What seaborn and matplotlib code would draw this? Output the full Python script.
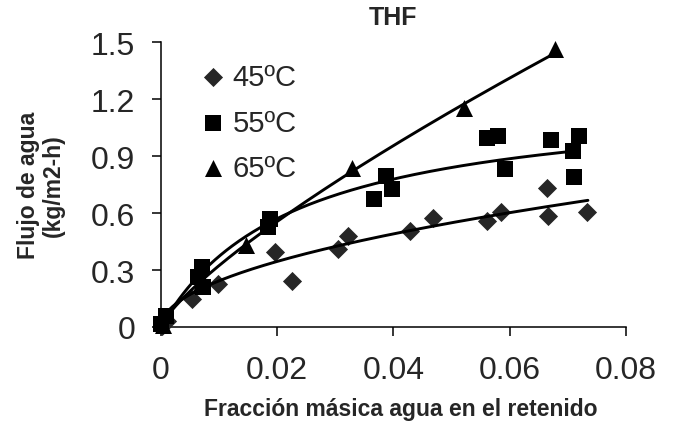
import numpy as np
import pandas as pd
import matplotlib
matplotlib.use("Agg")
import matplotlib.pyplot as plt
import seaborn as sns

# ---------------- data ----------------
x_45 = [0.0002, 0.0010, 0.0053, 0.0099, 0.0196, 0.0226, 0.0305, 0.0322, 0.0429,
        0.0469, 0.0562, 0.0585, 0.0664, 0.0667, 0.0733]
y_45 = [0.005, 0.030, 0.150, 0.224, 0.396, 0.244, 0.410, 0.477, 0.507,
        0.574, 0.559, 0.607, 0.733, 0.586, 0.607]

x_55 = [0.0000, 0.0008, 0.0064, 0.0070, 0.0073, 0.0185, 0.0188, 0.0366, 0.0388,
        0.0397, 0.0561, 0.0580, 0.0593, 0.0672, 0.0709, 0.0711, 0.0720]
y_55 = [0.014, 0.060, 0.262, 0.316, 0.209, 0.527, 0.568, 0.674, 0.796,
        0.726, 0.998, 1.004, 0.832, 0.986, 0.928, 0.788, 1.004]

x_65 = [0.0003, 0.0068, 0.0147, 0.0328, 0.0522, 0.0678]
y_65 = [0.010, 0.220, 0.430, 0.840, 1.156, 1.463]

series_labels = ["45ºC", "55ºC", "65ºC"]

# trendline coefficients
# 45ºC and 65ºC: power law y = a*x**b ; 55ºC: saturation y = a*x/(b+x)
trend_45 = [2.50, 0.506]
trend_55 = [1.225, 0.0229]
trend_65 = [11.8, 0.781]
trend_xrange_45 = [0.0003, 0.0735]
trend_xrange_55 = [0.0003, 0.0716]
trend_xrange_65 = [0.0003, 0.0678]

x_ticks = [0, 0.02, 0.04, 0.06, 0.08]
x_ticklabels = ["0", "0.02", "0.04", "0.06", "0.08"]
y_ticks = [0, 0.3, 0.6, 0.9, 1.2, 1.5]
y_ticklabels = ["0", "0.3", "0.6", "0.9", "1.2", "1.5"]

# ---------------- tables ----------------
points = pd.concat([
    pd.DataFrame({"x": x_45, "y": y_45, "serie": series_labels[0]}),
    pd.DataFrame({"x": x_55, "y": y_55, "serie": series_labels[1]}),
    pd.DataFrame({"x": x_65, "y": y_65, "serie": series_labels[2]}),
], ignore_index=True)

def curve(rng, fn):
    xs = np.linspace(rng[0], rng[1], 300)
    return xs, fn(xs)

cx45, cy45 = curve(trend_xrange_45, lambda x: trend_45[0] * x ** trend_45[1])
cx55, cy55 = curve(trend_xrange_55, lambda x: trend_55[0] * x / (trend_55[1] + x))
cx65, cy65 = curve(trend_xrange_65, lambda x: trend_65[0] * x ** trend_65[1])
curves = pd.concat([
    pd.DataFrame({"x": cx45, "y": cy45, "serie": series_labels[0]}),
    pd.DataFrame({"x": cx55, "y": cy55, "serie": series_labels[1]}),
    pd.DataFrame({"x": cx65, "y": cy65, "serie": series_labels[2]}),
], ignore_index=True)

# ---------------- plot ----------------
sns.set_style("ticks")
plt.rcParams["font.family"] = ["Liberation Sans", "DejaVu Sans"]

fig = plt.figure(figsize=(6.73, 4.27), dpi=100)
ax = fig.add_axes([0.2392, 0.2319, 0.6905, 0.6667])

palette = {"45ºC": "#262626", "55ºC": "#000000", "65ºC": "#000000"}
markers = {"45ºC": "D", "55ºC": "s", "65ºC": "^"}
sizes_map = {"45ºC": 95, "55ºC": 125, "65ºC": 150}

for lab in series_labels:
    sub = points[points["serie"] == lab]
    sns.scatterplot(data=sub, x="x", y="y", color=palette[lab], marker=markers[lab],
                    s=sizes_map[lab], linewidth=0, ax=ax, label=lab, zorder=3,
                    clip_on=False)

sns.lineplot(data=curves, x="x", y="y", units="serie", estimator=None, color="black",
             linewidth=2.1, ax=ax, legend=False, zorder=4, sort=False)

ax.set_xlim(0, 0.08)
ax.set_ylim(0, 1.5)
ax.set_xticks(x_ticks)
ax.set_xticklabels(x_ticklabels)
ax.set_yticks(y_ticks)
ax.set_yticklabels(y_ticklabels)
ax.tick_params(axis="both", labelsize=23, length=6.5, width=1.1, color="black",
               direction="out")
ax.tick_params(axis="y", pad=12)
ax.tick_params(axis="x", pad=14)
for side in ["top", "right"]:
    ax.spines[side].set_visible(False)
for side in ["left", "bottom"]:
    ax.spines[side].set_linewidth(1.1)
    ax.spines[side].set_color("black")

ax.set_xlabel("Fracción másica agua en el retenido", fontsize=16.5, fontweight="bold")
ax.xaxis.set_label_coords(0.515, -0.245)
ax.set_ylabel("Flujo de agua\n(kg/m2-h)", fontsize=16.5, fontweight="bold",
              linespacing=1.1)
ax.yaxis.set_label_coords(-0.207, 0.5)
ax.set_title("THF", fontsize=18, fontweight="bold", pad=13)

leg = ax.legend(loc="upper left", bbox_to_anchor=(0.055, 0.978), frameon=False,
                fontsize=21, handlelength=0.8, handletextpad=0.28,
                labelspacing=0.6, borderpad=0, markerscale=1.0)

fig.savefig("out.png", dpi=100)
